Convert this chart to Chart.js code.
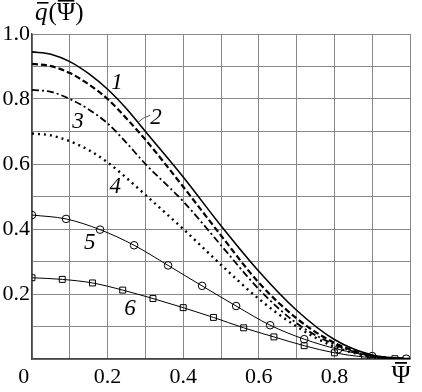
<!DOCTYPE html>
<html><head><meta charset="utf-8">
<script src="https://cdn.jsdelivr.net/npm/chart.js@4"></script>
<style>html,body{margin:0;padding:0;background:#fff}#wrap{width:422px;height:392px}</style>
</head><body><div id="wrap"><canvas id="c" width="422" height="392"></canvas></div>
<script>
// x values for curves 1-4
const xs = [0,0.05,0.1,0.15,0.2,0.25,0.3,0.4,0.5,0.6,0.7,0.8,0.9,1.0];
const curve1 = [0.945,0.938,0.915,0.878,0.83,0.77,0.70,0.56,0.41,0.27,0.15,0.06,0.012,0];
const curve2 = [0.908,0.901,0.88,0.845,0.80,0.74,0.675,0.53,0.38,0.235,0.125,0.05,0.01,0];
const curve3 = [0.828,0.822,0.80,0.768,0.725,0.665,0.60,0.485,0.35,0.215,0.11,0.045,0.008,0];
const curve4 = [0.694,0.688,0.67,0.643,0.605,0.557,0.505,0.40,0.29,0.185,0.10,0.038,0.007,0];
// marker curves
const x5 = [0,0.09,0.18,0.27,0.36,0.45,0.54,0.63,0.72,0.81,0.90,0.99];
const curve5 = [0.443,0.431,0.398,0.350,0.288,0.225,0.163,0.104,0.061,0.030,0.009,0.001];
const x6 = [0,0.08,0.16,0.24,0.32,0.40,0.48,0.56,0.64,0.72,0.80,0.88,0.96];
const curve6 = [0.25,0.245,0.234,0.212,0.186,0.158,0.128,0.096,0.068,0.041,0.019,0.006,0.001];
const xTickLabels = {0:'0   ',2:'0.2',4:'0.4',6:'0.6',8:'0.8'};
const yTickLabels = {2:'0.2',4:'0.4',6:'0.6',8:'0.8',10:'1.0'};
// curve number labels: [text, x, y]
const curveLabels = [['1',0.225,0.849],['2',0.328,0.742],['3',0.122,0.729],['4',0.22,0.529],['5',0.153,0.357],['6',0.259,0.154]];

const pts = (x, y) => x.map((v, i) => ({x: v, y: y[i]}));
const SERIF = '"Liberation Serif"';

const textPlugin = {
  id: 'texts',
  afterDraw(chart) {
    const {ctx, scales: {x, y}, chartArea: a} = chart;
    ctx.save();
    ctx.fillStyle = '#000';
    ctx.textBaseline = 'middle';
    ctx.textAlign = 'center';
    ctx.font = 'italic 23px ' + SERIF;
    curveLabels.forEach(([t, vx, vy]) => ctx.fillText(t, x.getPixelForValue(vx), y.getPixelForValue(vy)));
    // leader line for label 2
    ctx.strokeStyle = '#555'; ctx.lineWidth = 1;
    ctx.beginPath();
    ctx.moveTo(x.getPixelForValue(0.28), y.getPixelForValue(0.728));
    ctx.quadraticCurveTo(x.getPixelForValue(0.295), y.getPixelForValue(0.745), x.getPixelForValue(0.313), y.getPixelForValue(0.75));
    ctx.stroke();
    // y axis title  q̄(Ψ̄)
    ctx.textAlign = 'left'; ctx.textBaseline = 'alphabetic';
    ctx.font = 'italic 25px ' + SERIF;
    let px = a.left + 3, base = a.top - 14;
    ctx.fillText('q', px, base);
    const qw = ctx.measureText('q').width;
    ctx.fillRect(px + 2, base - 18, qw - 1, 1.6);
    px += qw + 1;
    ctx.font = '25px ' + SERIF;
    ctx.fillText('(', px, base);
    px += ctx.measureText('(').width;
    ctx.fillText('\u03A8', px, base);
    const pw = ctx.measureText('\u03A8').width;
    ctx.fillRect(px + 1, base - 20, pw - 2, 1.6);
    px += pw;
    ctx.fillText(')', px, base);
    // x axis title Ψ̄
    ctx.font = '26px ' + SERIF;
    ctx.textAlign = 'center';
    const cx = a.right - 9, cb = a.bottom + 24;
    ctx.fillText('\u03A8', cx, cb);
    ctx.fillRect(cx - 6, a.bottom + 3, 12, 1.8);
    ctx.restore();
  }
};

new Chart(document.getElementById('c'), {
  type: 'line',
  data: {
    datasets: [
      {data: pts(xs, curve1), borderColor: '#000', borderWidth: 1.6, pointRadius: 0, cubicInterpolationMode: 'monotone'},
      {data: pts(xs, curve2), borderColor: '#000', borderWidth: 2.2, borderDash: [6, 3], pointRadius: 0, cubicInterpolationMode: 'monotone'},
      {data: pts(xs, curve3), borderColor: '#000', borderWidth: 1.8, borderDash: [7, 3, 2, 3], pointRadius: 0, cubicInterpolationMode: 'monotone'},
      {data: pts(xs, curve4), borderColor: '#000', borderWidth: 2.4, borderDash: [2, 4], pointRadius: 0, cubicInterpolationMode: 'monotone'},
      {data: pts(x5, curve5), borderColor: '#000', borderWidth: 1, pointStyle: 'circle', pointRadius: 3.8, pointBorderColor: '#000', pointBackgroundColor: 'rgba(255,255,255,0)', pointBorderWidth: 1, cubicInterpolationMode: 'monotone'},
      {data: pts(x6, curve6), borderColor: '#000', borderWidth: 1, pointStyle: 'rect', pointRadius: 4.2, pointBorderColor: '#000', pointBackgroundColor: 'rgba(255,255,255,0)', pointBorderWidth: 1, cubicInterpolationMode: 'monotone'}
    ]
  },
  options: {
    responsive: false, animation: false,
    layout: {padding: {top: 34, right: 12, left: 0, bottom: 0}},
    plugins: {legend: {display: false}, tooltip: {enabled: false}},
    scales: {
      x: {
        type: 'linear', min: 0, max: 1,
        afterFit(s) { s.height = 33; },
        border: {color: '#444', width: 1.5},
        grid: {color: '#888', lineWidth: 1, drawTicks: false},
        ticks: {stepSize: 0.1, autoSkip: false, maxRotation: 0, padding: 5, color: '#000',
          font: {family: SERIF, size: 22},
          callback: v => xTickLabels[Math.round(v * 10)] ?? ''}
      },
      y: {
        type: 'linear', min: 0, max: 1,
        afterFit(s) { s.width = 32; },
        border: {color: '#444', width: 1.5},
        grid: {color: '#888', lineWidth: 1, drawTicks: false},
        ticks: {stepSize: 0.1, autoSkip: false, padding: 2, color: '#000',
          font: {family: SERIF, size: 22},
          callback: v => yTickLabels[Math.round(v * 10)] ?? ''}
      }
    }
  },
  plugins: [textPlugin]
});
</script></body></html>
